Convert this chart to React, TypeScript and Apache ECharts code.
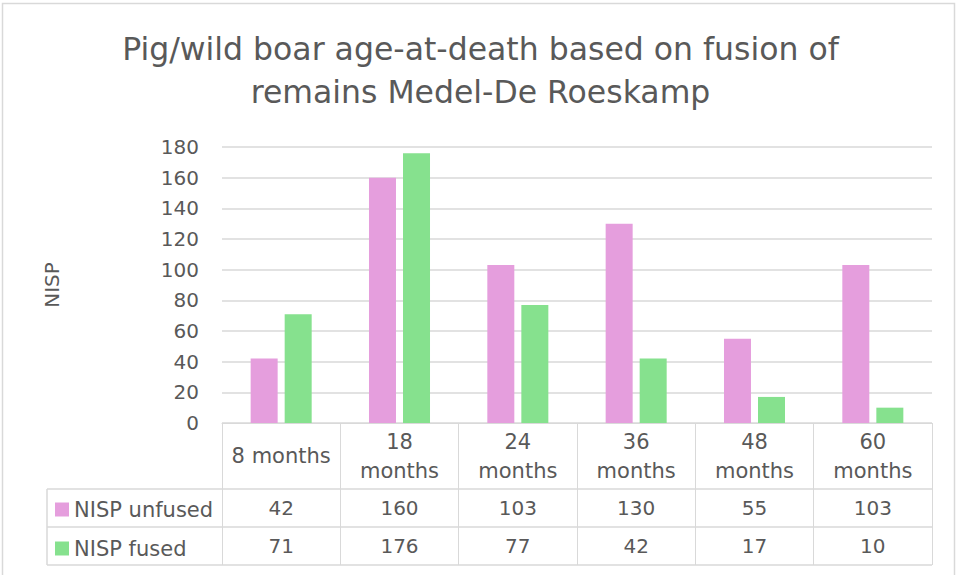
import React, { useEffect, useRef } from "react";
import * as echarts from "echarts";

const categories = ["8 months", "18\nmonths", "24\nmonths", "36\nmonths", "48\nmonths", "60\nmonths"];
const unfused = [42, 160, 103, 130, 55, 103];
const fused = [71, 176, 77, 42, 17, 10];
const seriesNames = ["NISP unfused", "NISP fused"];
const titleText = "Pig/wild boar age-at-death based on fusion of\nremains Medel-De Roeskamp";

const PINK = "#E59EDD";
const GREEN = "#86E18E";
const TXT = "#595959";
const LINE = "#D9D9D9";
const FONT = "'DejaVu Sans', Inter, sans-serif";

export default function App() {
  const ref = useRef<HTMLDivElement>(null);
  useEffect(() => {
    if (!ref.current) return;
    const chart = echarts.init(ref.current, undefined, { renderer: "svg" });
    const gridLeft = 222, gridRight = 932, gridTop = 147, gridBottom = 423;
    const row1 = 489, row2 = 527, row3 = 565, tableLeft = 47;
    const valueAxis = (data: number[], offset: number) => ({
      type: "category",
      gridIndex: 0,
      position: "bottom",
      data: data.map(String),
      offset,
      axisLine: { show: false },
      axisTick: { show: false },
      splitLine: { show: false },
      axisLabel: { interval: 0, margin: 0, verticalAlign: "middle", color: TXT, fontSize: 20, fontFamily: FONT },
    });
    chart.setOption({
      animation: false,
      title: {
        text: titleText,
        left: "center",
        top: 22,
        textStyle: { color: TXT, fontSize: 31.5, fontWeight: "normal", fontFamily: FONT, lineHeight: 43 },
      },
      grid: { left: gridLeft, right: 961 - gridRight, top: gridTop, bottom: 575 - gridBottom, containLabel: false },
      legend: {
        orient: "vertical",
        left: 50,
        top: 494,
        itemWidth: 14,
        itemHeight: 14,
        itemGap: 18,
        icon: "rect",
        data: seriesNames,
        textStyle: { color: TXT, fontSize: 21, fontFamily: FONT },
      },
      xAxis: [
        {
          type: "category",
          data: categories,
          axisLine: { show: true, lineStyle: { color: LINE, width: 1 } },
          axisTick: { show: true, length: row3 - gridBottom, lineStyle: { color: LINE, width: 1 } },
          axisLabel: { interval: 0, margin: 33, verticalAlign: "middle", color: TXT, fontSize: 21, lineHeight: 29, fontFamily: FONT },
        },
        valueAxis(unfused, 85),
        valueAxis(fused, 123),
      ],
      yAxis: {
        type: "value",
        min: 0,
        max: 180,
        interval: 20,
        name: "NISP",
        nameLocation: "middle",
        nameGap: 160,
        nameRotate: 90,
        nameTextStyle: { color: TXT, fontSize: 20, fontFamily: FONT },
        axisLine: { show: false },
        axisTick: { show: false },
        axisLabel: { color: TXT, fontSize: 20, margin: 23, fontFamily: FONT },
        splitLine: { lineStyle: { color: LINE, width: 1.5 } },
      },
      series: [
        { name: seriesNames[0], type: "bar", data: unfused, barWidth: 27, barGap: "26%", itemStyle: { color: PINK } },
        { name: seriesNames[1], type: "bar", data: fused, barWidth: 27, barGap: "26%", itemStyle: { color: GREEN } },
      ],
      graphic: [
        { type: "rect", silent: true, shape: { x: 2.5, y: 3.5, width: 952, height: 620 }, style: { fill: "none", stroke: LINE, lineWidth: 1.5 } },
        { type: "line", silent: true, shape: { x1: tableLeft, y1: row1, x2: gridRight, y2: row1 }, style: { stroke: LINE, lineWidth: 1.5 } },
        { type: "line", silent: true, shape: { x1: tableLeft, y1: row2, x2: gridRight, y2: row2 }, style: { stroke: LINE, lineWidth: 1.5 } },
        { type: "line", silent: true, shape: { x1: tableLeft, y1: row3, x2: gridRight, y2: row3 }, style: { stroke: LINE, lineWidth: 1.5 } },
        { type: "line", silent: true, shape: { x1: tableLeft, y1: row1, x2: tableLeft, y2: row3 }, style: { stroke: LINE, lineWidth: 1.5 } },
      ],
    });
    return () => chart.dispose();
  }, []);
  return <div ref={ref} style={{ position: "absolute", left: 0, top: 0, width: 961, height: 575, background: "#fff" }} />;
}
